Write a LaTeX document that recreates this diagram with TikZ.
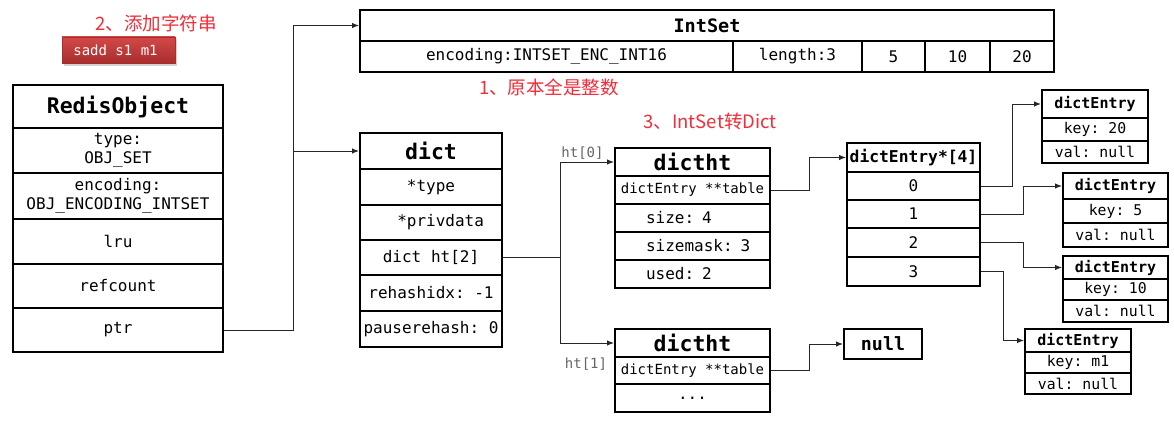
\documentclass[tikz,border=0pt]{standalone}
\usepackage{fontspec}
\setmonofont{DejaVu Sans Mono}
\newfontfamily\cjk{Noto Sans CJK SC}
\usetikzlibrary{arrows.meta,shadows}
\definecolor{redtxt}{HTML}{F02D3A}
\definecolor{saddtop}{HTML}{D44848}
\definecolor{saddbot}{HTML}{A82E2E}
\newcommand\mycell[7]{\node[cellbox,#1,minimum width={(#5-#3)*1pt},minimum height={(#6-#4)*1pt}] (#2) at ({(#3+#5)/2},{(#4+#6)/2}) {#7};}
\begin{document}
\begin{tikzpicture}[x=1pt,y=-1pt,
  cellbox/.style={draw, line width=2pt, inner sep=0pt, align=center, font=\ttfamily\fontsize{16}{19}\selectfont},
  bighead/.style={font=\ttfamily\bfseries\fontsize{21.5}{24}\selectfont},
  midhead/.style={font=\ttfamily\bfseries\fontsize{18.5}{21}\selectfont},
  smallhead/.style={font=\ttfamily\bfseries\fontsize{15}{17}\selectfont},
  smalltext/.style={font=\ttfamily\fontsize{14}{16}\selectfont},
  entrytext/.style={font=\ttfamily\fontsize{14.8}{17}\selectfont},
  lefttext/.style={text width=120pt, align=left},
  conn/.style={draw=black!85, line width=1pt, -{Latex[length=7pt,width=5.5pt]}},
  note/.style={text=redtxt, font=\cjk\fontsize{18.5}{22}\selectfont, inner sep=0pt},
  htlabel/.style={text=black!60, font=\ttfamily\fontsize{14}{16}\selectfont, inner sep=0pt}
]
\useasboundingbox (0,0) rectangle (1174,420);
\fill[white] (0,0) rectangle (1174,420);

% red notes
\node[note] (n2) at (156,23) {2、添加字符串};
\node[note] (n1) at (549,87) {1、原本全是整数};
\node[note] (n3) at (710,121) {3、IntSet转Dict};

% sadd command box
\node[top color=saddtop, bottom color=saddbot, draw=saddbot, line width=0.5pt,
      minimum width=113pt, minimum height=26pt, inner sep=0pt,
      drop shadow={opacity=0.35, shadow xshift=1.5pt, shadow yshift=-2.5pt},
      text=white, font=\ttfamily\fontsize{14}{16}\selectfont] (sadd) at (118.5,50) {sadd s1 m1\hspace*{6pt}};

% RedisObject
\mycell{bighead}{ro}{13}{85}{223}{128}{RedisObject}
\mycell{}{ro1}{13}{128}{223}{173}{type:\\OBJ\_SET}
\mycell{}{ro2}{13}{173}{223}{219}{encoding:\\OBJ\_ENCODING\_INTSET}
\mycell{}{ro3}{13}{219}{223}{264}{lru}
\mycell{}{ro4}{13}{264}{223}{308}{refcount}
\mycell{}{ro5}{13}{308}{223}{352}{ptr}

% IntSet
\mycell{midhead}{is}{360}{10}{1054}{41}{IntSet}
\mycell{}{is1}{360}{41}{733}{72}{encoding:INTSET\_ENC\_INT16}
\mycell{}{is2}{733}{41}{862}{72}{length:3}
\mycell{}{is3}{862}{41}{925}{72}{5}
\mycell{}{is4}{925}{41}{990}{72}{10}
\mycell{}{is5}{990}{41}{1054}{72}{20}

% dict
\mycell{bighead}{d}{360}{133}{502}{169}{dict}
\mycell{}{d1}{360}{169}{502}{205}{*type}
\mycell{}{d2}{360}{205}{502}{240}{\hspace*{1.2em}*privdata}
\mycell{}{d3}{360}{240}{502}{275}{dict ht[2]}
\mycell{}{d4}{360}{275}{502}{311}{rehashidx: -1}
\mycell{}{d5}{360}{311}{502}{347}{pauserehash: 0}

% dictht 0
\mycell{bighead}{t0}{615}{148}{770}{176}{dictht}
\mycell{smalltext}{t01}{615}{176}{770}{204}{dictEntry **table}
\mycell{lefttext}{t02}{615}{204}{770}{232}{\hspace*{13.5pt}size: 4}
\mycell{lefttext}{t03}{615}{232}{770}{260}{\hspace*{13.5pt}sizemask: 3}
\mycell{lefttext}{t04}{615}{260}{770}{288}{\hspace*{13.5pt}used: 2}

% dictht 1
\mycell{bighead}{u0}{615}{329}{770}{357}{dictht}
\mycell{smalltext}{u1}{615}{357}{770}{384}{dictEntry **table}
\mycell{}{u2}{615}{384}{770}{412}{...}

% dictEntry*[4]
\mycell{font=\ttfamily\bfseries\fontsize{16.3}{18}\selectfont}{a}{847}{143}{980}{172}{dictEntry*[4]}
\mycell{}{a0}{847}{172}{980}{200}{0}
\mycell{}{a1}{847}{200}{980}{228}{1}
\mycell{}{a2}{847}{228}{980}{257}{2}
\mycell{}{a3}{847}{257}{980}{286}{3}

% entries
\mycell{smallhead}{e20}{1042}{90}{1148}{118}{dictEntry}
\mycell{entrytext}{e20k}{1042}{118}{1148}{141}{key: 20}
\mycell{entrytext}{e20v}{1042}{141}{1148}{163}{val: null}

\mycell{smallhead}{e5}{1063}{173}{1168}{199}{dictEntry}
\mycell{entrytext}{e5k}{1063}{199}{1168}{223}{key: 5}
\mycell{entrytext}{e5v}{1063}{223}{1168}{247}{val: null}

\mycell{smallhead}{e10}{1063}{256}{1168}{279}{dictEntry}
\mycell{entrytext}{e10k}{1063}{279}{1168}{300}{key: 10}
\mycell{entrytext}{e10v}{1063}{300}{1168}{322}{val: null}

\mycell{smallhead}{em1}{1025}{329}{1131}{352}{dictEntry}
\mycell{entrytext}{em1k}{1025}{352}{1131}{373}{key: m1}
\mycell{entrytext}{em1v}{1025}{373}{1131}{394}{val: null}

% null
\mycell{font=\ttfamily\bfseries\fontsize{18.3}{20}\selectfont}{nul}{844}{329}{922}{359}{null}

% labels
\node[htlabel] (h0) at (582.5,153) {ht[0]};
\node[htlabel] (h1) at (586,364) {ht[1]};

% connectors
\draw[conn] (ro5.east) -- ++(69,0) |- (is.west);
\draw[conn] (ro5.east) -- ++(69,0) |- (d.west);
\draw[conn] (d3.east) -- ++(57,0) |- (t0.west);
\draw[conn] (d3.east) -- ++(57,0) |- (u0.west);
\draw[conn] (t01.east) -- ++(38,0) |- (a.west);
\draw[conn] (u1.east) -- ++(38,0) |- (nul.west);
\draw[conn] (a0.east) -- ++(31,0) |- (e20.west);
\draw[conn] (a1.east) -- ++(42,0) |- (e5.west);
\draw[conn] (a2.east) -- ++(42,0) |- (e10.west);
\draw[conn] (a3.east) -- ++(22,0) |- (em1.west);
\end{tikzpicture}
\end{document}
